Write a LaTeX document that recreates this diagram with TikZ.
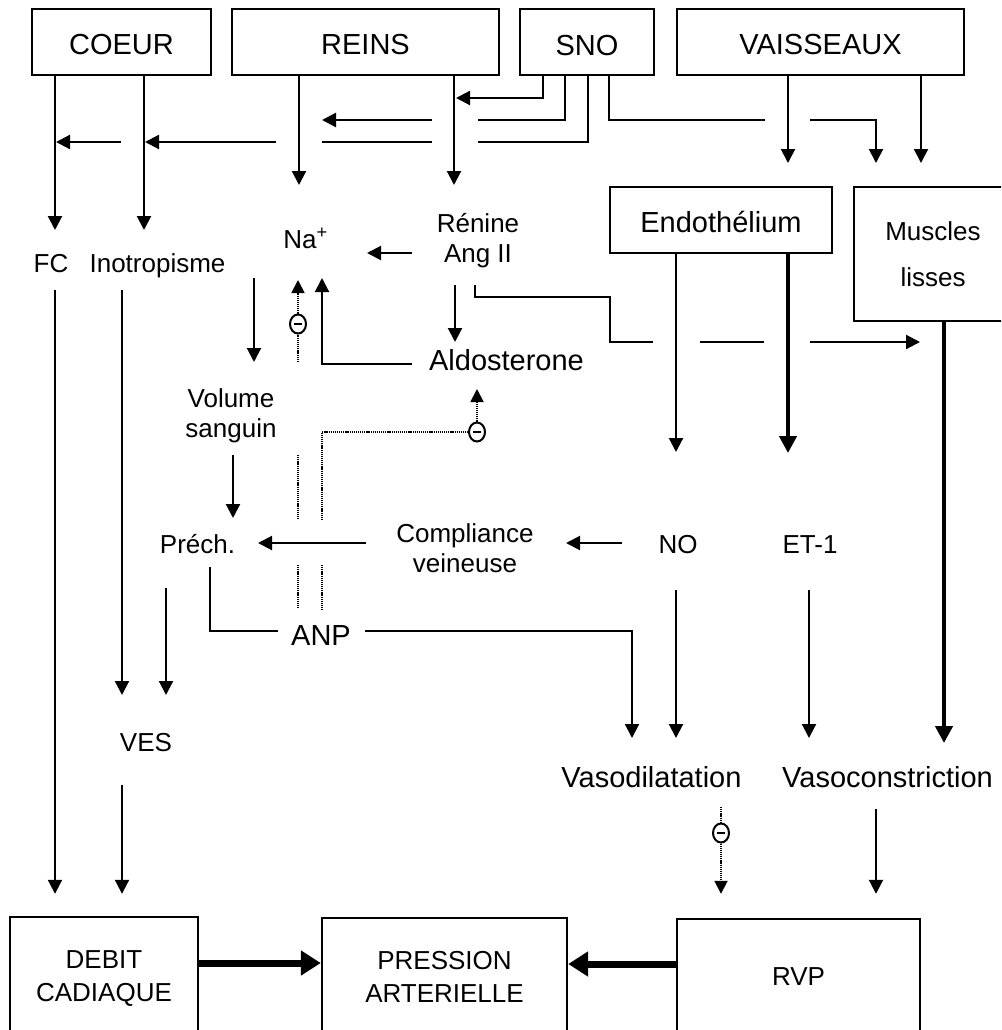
\documentclass[tikz,border=0pt]{standalone}
\usepackage{fontspec}
\setmainfont{Liberation Sans}
\usetikzlibrary{arrows.meta,shapes.geometric}
% several centred lines; the baseline is that of the first line
\newcommand\txtlines[3]{\fontsize{#1}{#2}\selectfont\begin{tabular}[t]{@{}c@{}}#3\end{tabular}}
\begin{document}
\begin{tikzpicture}[x=1pt,y=-1pt,
  every node/.style={inner sep=0pt},
  box/.style={draw, line width=2.6pt, font=\fontsize{29}{34}\selectfont},
  lbl/.style={anchor=base, font=\fontsize{26}{30}\selectfont},
  lblb/.style={anchor=base, font=\fontsize{29}{34}\selectfont},
  ln/.style={line width=2.1pt},
  arr/.style={ln, -{Triangle[width=14pt,length=14pt]}},
  tharr/.style={line width=4.5pt, -{Triangle[width=17pt,length=17pt]}},
  bigarr/.style={line width=7pt, -{Triangle[width=24pt,length=20pt]}},
  dotline/.style={line width=1.8pt, dash pattern=on 1.2pt off 0.9pt},
  dotarr/.style={dotline, -{Triangle[width=13pt,length=13pt]}},
  inhib/.style={draw, ellipse, line width=2pt, fill=white,
    minimum width=16pt, minimum height=19pt,
    path picture={\draw[line width=1.5pt]
      ([xshift=-4pt]path picture bounding box.center) --
      ([xshift=4pt]path picture bounding box.center);}}
]
\useasboundingbox (0,0) rectangle (1001,1030);
\fill[white] (0,0) rectangle (1001,1030);
\clip (0,0) rectangle (1001,1030);

% organ boxes
\node[box, minimum width=179pt, minimum height=66pt, text height=26pt, text depth=0pt] (coeur) at (121.5,42) {COEUR};
\node[box, minimum width=267pt, minimum height=66pt, text height=26pt, text depth=0pt] (reins) at (365.5,42) {REINS};
\node[box, minimum width=134pt, minimum height=66pt, text height=27pt, text depth=0pt] (sno) at (587,42) {SNO};
\node[box, minimum width=287pt, minimum height=66pt, text height=26pt, text depth=0pt] (vaiss) at (820.5,42) {VAISSEAUX};
\node[box, minimum width=222pt, minimum height=66pt, text height=24pt, text depth=0pt] (endo) at (721,220) {Endothélium};
\node[box, minimum width=158pt, minimum height=134pt] (musc) at (933,254) {\txtlines{26}{46}{Muscles\\lisses}};

% result boxes
\node[box, line width=2.4pt, minimum width=188pt, minimum height=122pt] (debit) at (104,978) {\txtlines{26}{33}{DEBIT\\CADIAQUE}};
\node[box, line width=2.4pt, minimum width=245pt, minimum height=122pt] (pa) at (444.5,979) {\txtlines{26}{33}{PRESSION\\ARTERIELLE}};
\node[box, line width=2.4pt, minimum width=243pt, minimum height=115pt, font=\fontsize{26}{30}\selectfont] (rvp) at (798.5,976.5) {RVP};

% intermediate labels
\node[lbl] (fc) at (51,272) {FC};
\node[lbl] (ino) at (157.5,272) {Inotropisme};
\node[lbl] (na) at (305.5,248) {Na\textsuperscript{+}};
\node[anchor=base] (renine) at (478,232) {\txtlines{26}{30}{Rénine\\Ang II}};
\node[lblb] (aldo) at (506.5,370) {Aldosterone};
\node[anchor=base] (vol) at (231,407) {\txtlines{26}{30}{Volume\\sanguin}};
\node[lbl] (prech) at (197.5,553) {Préch.};
\node[anchor=base] (comp) at (465,542) {\txtlines{26}{30}{Compliance\\veineuse}};
\node[lbl] (no) at (678,553) {NO};
\node[lbl] (et) at (810,553) {ET-1};
\node[lblb] (anp) at (321,645) {ANP};
\node[lbl] (ves) at (146,751) {VES};
\node[lblb] (vdil) at (651.5,787) {Vasodilatation};
\node[lblb] (vcon) at (887.5,787) {Vasoconstriction};

% heart
\draw[arr] (coeur.south -| 55,0) -- (55,230);
\draw[arr] (coeur.south -| 144,0) -- (144,230);
\draw[arr, shorten >=22pt] (55,290) -- (debit.north -| 55,0);
\draw[arr] (122,290) -- (122,695);
\draw[arr] (166,588) -- (166,695);
\draw[arr, shorten >=22pt] (122,785) -- (debit.north -| 122,0);

% kidneys
\draw[arr] (reins.south -| 299,0) -- (299,185);
\draw[arr] (reins.south -| 454,0) -- (454,185);

% autonomic nervous system
\draw[arr] (sno.south -| 543,0) |- (456,98);
\draw[ln] (sno.south -| 565,0) |- (478,120);
\draw[arr] (432,120) -- (322,120);
\draw[ln] (sno.south -| 588,0) |- (478,142);
\draw[ln] (432,142) -- (322,142);
\draw[arr] (276,142) -- (145,142);
\draw[arr] (121,142) -- (56,142);
\draw[ln] (sno.south -| 609,0) |- (765,120);
\draw[arr] (810,120) -| (876,163);

% vessels
\draw[arr] (vaiss.south -| 788,0) -- (788,163);
\draw[arr] (vaiss.south -| 921,0) -- (921,163);

% renin - angiotensin - aldosterone
\draw[arr] (412,253) -- (367,253);
\draw[arr] (254,278) -- (254,362);
\draw[arr] (455,285) -- (455,342);
\draw[ln] (475,285) |- (610,297) |- (653,342);
\draw[ln] (700,342) -- (764,342);
\draw[arr] (810,342) -- (920,342);
\draw[arr] (412,364) -| (322,278);

% inhibitions by ANP
\node[inhib] (m1) at (298,324) {};
\draw[dotarr] (m1) -- (298,280);
\draw[dotline] (298,362) -- (m1);
\draw[dotline] (298,455) -- (298,520);
\draw[dotline] (298,565) -- (298,608);
\node[inhib] (m2) at (477,432) {};
\draw[dotline] (322,520) |- (m2);
\draw[dotarr] (m2) -- (477,389);
\draw[dotline] (322,565) -- (322,610);

% volume, venous compliance, preload
\draw[arr] (233,455) -- (233,518);
\draw[arr] (366,543) -- (258,543);
\draw[arr] (622,543) -- (566,543);
\draw[ln] (210,567) |- (278,631);
\draw[arr] (365,631) -| (632,738);

% endothelium and smooth muscle
\draw[arr] (endo.south -| 676,0) -- (676,452);
\draw[tharr] (endo.south -| 788,0) -- (788,453);
\draw[arr] (676,590) -- (676,738);
\draw[arr] (809,590) -- (809,738);
\draw[tharr] (musc.south -| 944,0) -- (944,743);

% peripheral resistance
\node[inhib] (m3) at (721,833) {};
\draw[dotline] (721,807) -- (m3);
\draw[dotarr, shorten >=24pt] (m3) -- (rvp.north -| 721,0);
\draw[arr, shorten >=24pt] (876,809) -- (rvp.north -| 876,0);

% arterial pressure
\draw[bigarr] (debit.east |- 0,963) -- (pa.west |- 0,963);
\draw[bigarr] (rvp.west |- 0,964) -- (pa.east |- 0,964);
\end{tikzpicture}
\end{document}
